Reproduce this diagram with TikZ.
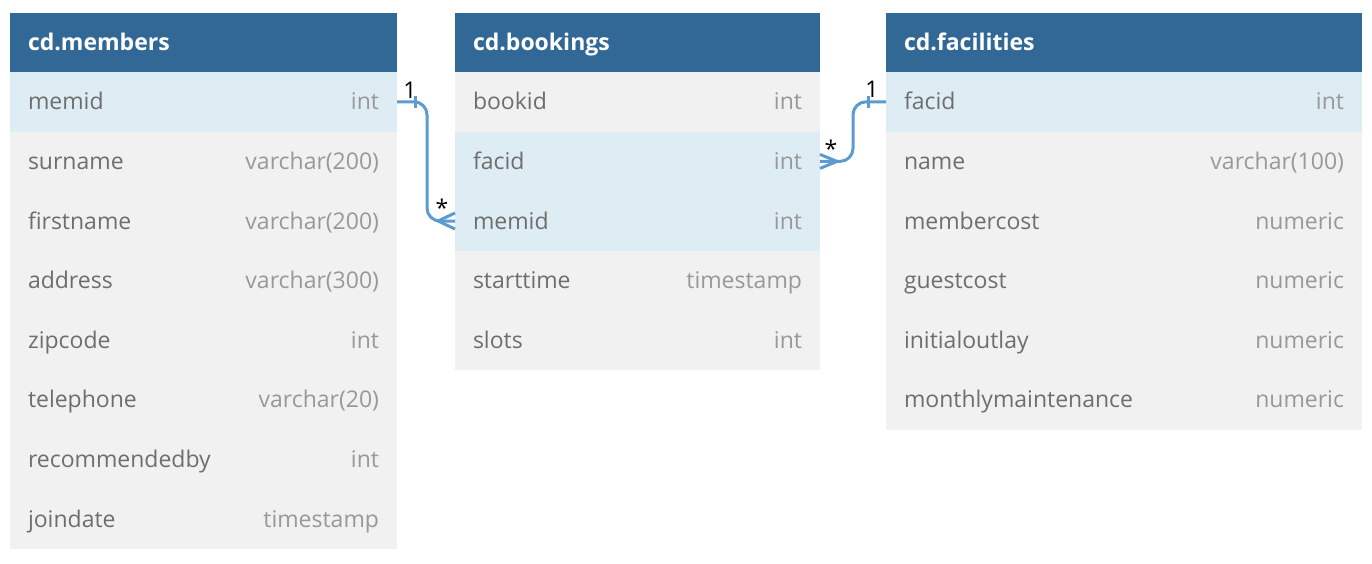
\documentclass[tikz,border=0pt]{standalone}
\usepackage{fontspec}
\setmainfont{Open Sans}
\usetikzlibrary{calc}
\definecolor{hdblue}{RGB}{50,104,150}
\definecolor{hlrow}{RGB}{222,236,244}
\definecolor{plrow}{RGB}{241,241,241}
\definecolor{namegray}{RGB}{110,110,110}
\definecolor{typegray}{RGB}{152,152,152}
\definecolor{linkblue}{RGB}{92,155,210}

\begin{document}
\begin{tikzpicture}[x=1pt,y=-1pt,
    font=\fontsize{23}{28}\selectfont,
    hd/.style={anchor=north west,fill=hdblue,text=white,font=\fontsize{23}{28}\selectfont\bfseries,
      minimum height=59pt,inner xsep=18pt,inner ysep=0pt,outer sep=0pt,text height=16pt,text depth=0pt},
    row/.style={anchor=north west,minimum height=59.6pt,inner xsep=18pt,inner ysep=0pt,outer sep=0pt,
      text=namegray,text height=16pt,text depth=0pt},
    hl/.style={fill=hlrow},
    pl/.style={fill=plrow},
    link/.style={linkblue,line width=3pt,rounded corners=13pt},
    foot/.style={linkblue,line width=3pt},
    card/.style={font=\fontsize{23}{26}\selectfont,text=black,inner sep=0pt}]

          \useasboundingbox (0,0) rectangle (1372,564); %画面

          \node[hd] (memhd) at (10,13) {\makebox[351pt][l]{cd.members}}; %会員表
          \foreach \n/\t/\c [count=\i] in {memid/int/hl,surname/varchar(200)/pl,firstname/varchar(200)/pl,
              address/varchar(300)/pl,zipcode/int/pl,telephone/varchar(20)/pl,recommendedby/int/pl,joindate/timestamp/pl}
            \node[row,\c] (mem\i) at (10,{72+59.6*(\i-1)}) {\makebox[351pt][s]{\n\hfill\textcolor{typegray}{\t}}};

          \node[hd] (bkhd) at (455,13) {\makebox[329pt][l]{cd.bookings}}; %予約表
          \foreach \n/\t/\c [count=\i] in {bookid/int/pl,facid/int/hl,memid/int/hl,starttime/timestamp/pl,slots/int/pl}
            \node[row,\c] (bk\i) at (455,{72+59.6*(\i-1)}) {\makebox[329pt][s]{\n\hfill\textcolor{typegray}{\t}}};

          \node[hd] (fachd) at (886,13) {\makebox[440pt][l]{cd.facilities}}; %施設表
          \foreach \n/\t/\c [count=\i] in {facid/int/hl,name/varchar(100)/pl,membercost/numeric/pl,
              guestcost/numeric/pl,initialoutlay/numeric/pl,monthlymaintenance/numeric/pl}
            \node[row,\c] (fac\i) at (886,{72+59.6*(\i-1)}) {\makebox[440pt][s]{\n\hfill\textcolor{typegray}{\t}}};

          %会員--予約
          \draw[link] (mem1.east) -- ++(30,0) |- (bk3.west);
          \draw[foot] ($(mem1.east)+(18,-6)$) -- ($(mem1.east)+(18,6)$); %1側
          \coordinate (cfa) at ($(bk3.west)+(-17,0)$);
          \draw[foot] ($(bk3.west)+(0,-8)$) -- (cfa) -- ($(bk3.west)+(0,8)$); %多側
          \node[card] (onea) at ($(mem1.east)+(13,-12)$) {1};
          \node[card] (manya) at ($(bk3.west)+(-13,-13)$) {*};

          %予約--施設
          \draw[link] (bk2.east) -- ++(33,0) |- (fac1.west);
          \draw[foot] ($(fac1.west)+(-18,-6)$) -- ($(fac1.west)+(-18,6)$); %1側
          \coordinate (cfb) at ($(bk2.east)+(17,0)$);
          \draw[foot] ($(bk2.east)+(0,-7)$) -- (cfb) -- ($(bk2.east)+(0,7)$); %多側
          \node[card] (oneb) at ($(fac1.west)+(-14,-13)$) {1};
          \node[card] (manyb) at ($(bk2.east)+(11,-13)$) {*};

        \end{tikzpicture}
\end{document}
